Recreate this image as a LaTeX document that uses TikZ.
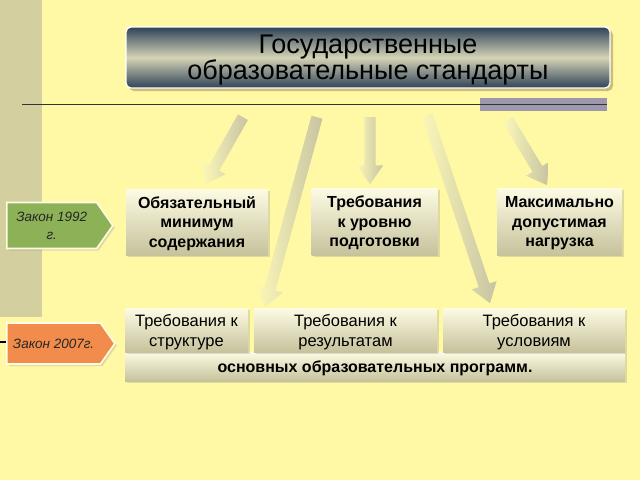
\documentclass[tikz,border=0pt]{standalone}
\usepackage{fontspec}
\setmainfont{Liberation Sans}
\usetikzlibrary{positioning,shapes.arrows,shapes.symbols,shadows,calc}

\definecolor{bgyellow}{HTML}{FFF9A6}
\definecolor{sidestrip}{HTML}{D3CF9F}
\definecolor{boxtop}{HTML}{FDFBE4}
\definecolor{boxbot}{HTML}{C6C29C}
\definecolor{arrowtail}{HTML}{FBF7B8}
\definecolor{arrowhead}{HTML}{C7C3A2}
\definecolor{titledark}{HTML}{2F4257}
\definecolor{titlelight}{HTML}{D4D4B6}
\definecolor{lawgreen}{HTML}{8DB157}
\definecolor{laworange}{HTML}{F28C4C}
\definecolor{tagrim}{HTML}{FFFDE2}
\definecolor{greybar}{HTML}{9D98AB}

\tikzset{
  plate/.style={rectangle, inner sep=0pt, align=center,
    top color=boxtop, bottom color=boxbot,
    drop shadow={shadow xshift=2pt, shadow yshift=-2pt, opacity=.25}},
  upper/.style={plate, text depth=-4pt, font=\bfseries\fontsize{16}{19.5}\selectfont},
  lower/.style={plate, text depth=0pt, font=\fontsize{16.5}{20}\selectfont},
  lawtag/.style={signal, signal to=east, signal pointer angle=110,
    draw=tagrim, line width=1.6pt, inner sep=0pt, align=center, anchor=west,
    text=black!85, font=\itshape\fontsize{13.5}{18}\selectfont,
    drop shadow={shadow xshift=2pt, shadow yshift=-2pt, opacity=.25}},
  bigarrow/.style={single arrow, draw=none, inner xsep=0pt, inner ysep=5.5pt,
    minimum width=26pt, single arrow head extend=7.5pt,
    single arrow tip angle=70, left color=arrowtail, right color=arrowhead}
}

% block arrow from #1 to #2
\newcommand\fatarrow[2]{%
  \path let \p1=(#1), \p2=(#2),
    \n1={atan2(\y2-\y1,\x2-\x1)}, \n2={veclen(\x2-\x1,\y2-\y1)} in
    node[bigarrow, minimum height=\n2, rotate=\n1, anchor=tail] at (\p1) {};}

\begin{document}
\begin{tikzpicture}[x=1pt, y=-1pt]
    \fill[bgyellow] (0,0) rectangle (640,480);
    \useasboundingbox (0,0) rectangle (640,480);
    \fill[sidestrip] (0,0) rectangle (42,317);

    % title
    \node[rectangle, rounded corners=5pt, minimum width=484pt, minimum height=61pt,
      top color=titledark, bottom color=titledark, middle color=titlelight,
      draw=white, line width=1.3pt, align=center, text depth=-2pt,
      font=\fontsize{27}{26}\selectfont,
      drop shadow={shadow xshift=3pt, shadow yshift=-3pt, opacity=.35, fill=brown!60!black}]
      (title) at (368,57.5) {Государственные\\образовательные стандарты};

    \fill[greybar] (480,98) rectangle (607,111);
    \coordinate (ruleL) at (22,104);
    \coordinate (ruleR) at (607,104);
    \draw[line width=1pt, black!80] (ruleL) -- (ruleR);

    % arrows
    \coordinate (a1s) at (243,117); \coordinate (a1e) at (205,184);
    \coordinate (a2s) at (317,117); \coordinate (a2e) at (265,307);
    \coordinate (a3s) at (370,117); \coordinate (a3e) at (370,184);
    \coordinate (a4s) at (427,115); \coordinate (a4e) at (490,303);
    \coordinate (a5s) at (508,120); \coordinate (a5e) at (547,185);
    \fatarrow{a1s}{a1e}
    \fatarrow{a2s}{a2e}
    \fatarrow{a3s}{a3e}
    \fatarrow{a4s}{a4e}
    \fatarrow{a5s}{a5e}

    % 1992
    \node[upper, minimum width=142pt, minimum height=66pt] (minimum) at (197,222)
      {Обязательный\\минимум\\содержания};
    \node[upper, minimum width=126pt, minimum height=67pt] (level) at (374.5,221.5)
      {Требования\\к уровню\\подготовки};
    \node[upper, minimum width=125pt, minimum height=67pt] (load) at (559.5,221.5)
      {Максимально\\допустимая\\нагрузка};

    % 2007
    \node[plate, minimum width=500pt, minimum height=29pt, text depth=-1pt,
      font=\bfseries\fontsize{16}{18}\selectfont] (programs) at (375,366.5)
      {основных образовательных программ.};
    \node[lower, minimum width=123pt, minimum height=44pt] (structure) at (186.5,330)
      {Требования к\\структуре};
    \node[lower, minimum width=183pt, minimum height=44pt] (results) at (345.5,330)
      {Требования к\\результатам};
    \node[lower, minimum width=182pt, minimum height=44pt] (conditions) at (534,330)
      {Требования к\\условиям};

    % law tags
    \coordinate (stub) at (0,342);
    \draw[line width=1.2pt] (stub) -- ++(20,0);
    \node[lawtag, fill=lawgreen, minimum width=106pt, minimum height=46pt] (law92)
      at (6,225.5) {Закон 1992\\г.};
    \node[lawtag, fill=laworange, minimum width=108pt, minimum height=41pt] (law07)
      at (6,343.5) {Закон 2007г.};
\end{tikzpicture}
\end{document}
